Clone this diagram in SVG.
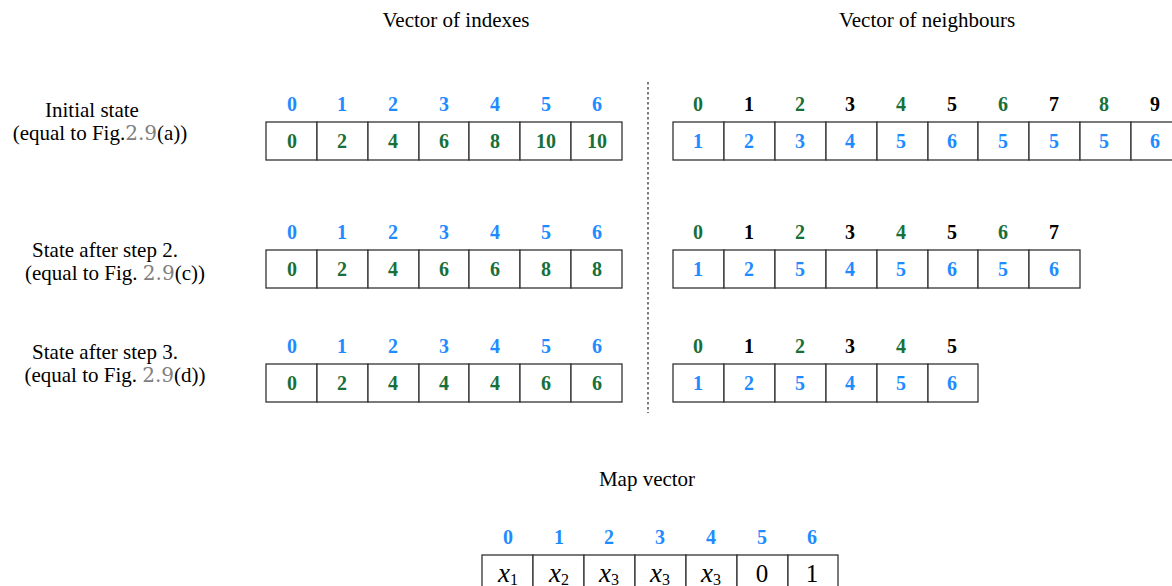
<svg xmlns="http://www.w3.org/2000/svg" width="1172" height="586" viewBox="0 0 1172 586">
<style>
.t{font-family:"Liberation Serif",serif;font-size:21px;fill:#000;text-anchor:middle}
.g9{fill:#808080;font-family:"DejaVu Serif",serif;font-size:20px;font-weight:300}
.n{font-family:"Liberation Serif",serif;font-size:20px;font-weight:bold;text-anchor:middle}
.b{fill:#1e8cff}
.gr{fill:#17703a}
.k{fill:#000}
.c{fill:#fff;stroke:#333;stroke-width:1.3}
.m{font-family:"Liberation Serif",serif;font-size:25px;text-anchor:middle;fill:#000}
</style>
<rect width="1172" height="586" fill="#fff"/>
<text class="t" x="456" y="27">Vector of indexes</text>
<text class="t" x="927" y="27">Vector of neighbours</text>
<text class="t" x="647" y="486">Map vector</text>
<g id="labels">
<text class="t" x="92" y="117">Initial state</text>
<text class="t" x="100" y="140">(equal to Fig.<tspan class="g9">2.9</tspan>(a))</text>
<text class="t" x="105" y="257">State after step 2.</text>
<text class="t" x="115" y="280">(equal to Fig. <tspan class="g9">2.9</tspan>(c))</text>
<text class="t" x="105" y="359">State after step 3.</text>
<text class="t" x="115" y="382">(equal to Fig. <tspan class="g9">2.9</tspan>(d))</text>
</g>
<g id="connectors">
<line x1="648" y1="82" x2="648" y2="413" stroke="#333" stroke-width="1.3" stroke-dasharray="2.5,2.5"/>
</g>
<g id="indexes-initial">
<g class="n b"><text x="292" y="111">0</text><text x="342" y="111">1</text><text x="393" y="111">2</text><text x="444" y="111">3</text><text x="495" y="111">4</text><text x="546" y="111">5</text><text x="597" y="111">6</text></g>
<rect class="c" x="266" y="122" width="51" height="38"/><rect class="c" x="317" y="122" width="51" height="38"/><rect class="c" x="368" y="122" width="51" height="38"/><rect class="c" x="419" y="122" width="50" height="38"/><rect class="c" x="469" y="122" width="51" height="38"/><rect class="c" x="520" y="122" width="51" height="38"/><rect class="c" x="571" y="122" width="51" height="38"/>
<g class="n gr"><text x="292" y="148">0</text><text x="342" y="148">2</text><text x="393" y="148">4</text><text x="444" y="148">6</text><text x="495" y="148">8</text><text x="546" y="148">10</text><text x="597" y="148">10</text></g>
</g>
<g id="neighbours-initial">
<g class="n"><text class="gr" x="698" y="111">0</text><text class="k" x="749" y="111">1</text><text class="gr" x="800" y="111">2</text><text class="k" x="850" y="111">3</text><text class="gr" x="901" y="111">4</text><text class="k" x="952" y="111">5</text><text class="gr" x="1003" y="111">6</text><text class="k" x="1054" y="111">7</text><text class="gr" x="1104" y="111">8</text><text class="k" x="1155" y="111">9</text></g>
<rect class="c" x="673" y="122" width="51" height="38"/><rect class="c" x="724" y="122" width="51" height="38"/><rect class="c" x="775" y="122" width="51" height="38"/><rect class="c" x="826" y="122" width="51" height="38"/><rect class="c" x="877" y="122" width="51" height="38"/><rect class="c" x="928" y="122" width="50" height="38"/><rect class="c" x="978" y="122" width="51" height="38"/><rect class="c" x="1029" y="122" width="51" height="38"/><rect class="c" x="1080" y="122" width="51" height="38"/><rect class="c" x="1131" y="122" width="51" height="38"/>
<g class="n b"><text x="698" y="148">1</text><text x="749" y="148">2</text><text x="800" y="148">3</text><text x="850" y="148">4</text><text x="901" y="148">5</text><text x="952" y="148">6</text><text x="1003" y="148">5</text><text x="1054" y="148">5</text><text x="1104" y="148">5</text><text x="1155" y="148">6</text></g>
</g>
<g id="indexes-step2">
<g class="n b"><text x="292" y="239">0</text><text x="342" y="239">1</text><text x="393" y="239">2</text><text x="444" y="239">3</text><text x="495" y="239">4</text><text x="546" y="239">5</text><text x="597" y="239">6</text></g>
<rect class="c" x="266" y="250" width="51" height="38"/><rect class="c" x="317" y="250" width="51" height="38"/><rect class="c" x="368" y="250" width="51" height="38"/><rect class="c" x="419" y="250" width="50" height="38"/><rect class="c" x="469" y="250" width="51" height="38"/><rect class="c" x="520" y="250" width="51" height="38"/><rect class="c" x="571" y="250" width="51" height="38"/>
<g class="n gr"><text x="292" y="276">0</text><text x="342" y="276">2</text><text x="393" y="276">4</text><text x="444" y="276">6</text><text x="495" y="276">6</text><text x="546" y="276">8</text><text x="597" y="276">8</text></g>
</g>
<g id="neighbours-step2">
<g class="n"><text class="gr" x="698" y="239">0</text><text class="k" x="749" y="239">1</text><text class="gr" x="800" y="239">2</text><text class="k" x="850" y="239">3</text><text class="gr" x="901" y="239">4</text><text class="k" x="952" y="239">5</text><text class="gr" x="1003" y="239">6</text><text class="k" x="1054" y="239">7</text></g>
<rect class="c" x="673" y="250" width="51" height="38"/><rect class="c" x="724" y="250" width="51" height="38"/><rect class="c" x="775" y="250" width="51" height="38"/><rect class="c" x="826" y="250" width="51" height="38"/><rect class="c" x="877" y="250" width="51" height="38"/><rect class="c" x="928" y="250" width="50" height="38"/><rect class="c" x="978" y="250" width="51" height="38"/><rect class="c" x="1029" y="250" width="51" height="38"/>
<g class="n b"><text x="698" y="276">1</text><text x="749" y="276">2</text><text x="800" y="276">5</text><text x="850" y="276">4</text><text x="901" y="276">5</text><text x="952" y="276">6</text><text x="1003" y="276">5</text><text x="1054" y="276">6</text></g>
</g>
<g id="indexes-step3">
<g class="n b"><text x="292" y="353">0</text><text x="342" y="353">1</text><text x="393" y="353">2</text><text x="444" y="353">3</text><text x="495" y="353">4</text><text x="546" y="353">5</text><text x="597" y="353">6</text></g>
<rect class="c" x="266" y="364" width="51" height="38"/><rect class="c" x="317" y="364" width="51" height="38"/><rect class="c" x="368" y="364" width="51" height="38"/><rect class="c" x="419" y="364" width="50" height="38"/><rect class="c" x="469" y="364" width="51" height="38"/><rect class="c" x="520" y="364" width="51" height="38"/><rect class="c" x="571" y="364" width="51" height="38"/>
<g class="n gr"><text x="292" y="390">0</text><text x="342" y="390">2</text><text x="393" y="390">4</text><text x="444" y="390">4</text><text x="495" y="390">4</text><text x="546" y="390">6</text><text x="597" y="390">6</text></g>
</g>
<g id="neighbours-step3">
<g class="n"><text class="gr" x="698" y="353">0</text><text class="k" x="749" y="353">1</text><text class="gr" x="800" y="353">2</text><text class="k" x="850" y="353">3</text><text class="gr" x="901" y="353">4</text><text class="k" x="952" y="353">5</text></g>
<rect class="c" x="673" y="364" width="51" height="38"/><rect class="c" x="724" y="364" width="51" height="38"/><rect class="c" x="775" y="364" width="51" height="38"/><rect class="c" x="826" y="364" width="51" height="38"/><rect class="c" x="877" y="364" width="51" height="38"/><rect class="c" x="928" y="364" width="50" height="38"/>
<g class="n b"><text x="698" y="390">1</text><text x="749" y="390">2</text><text x="800" y="390">5</text><text x="850" y="390">4</text><text x="901" y="390">5</text><text x="952" y="390">6</text></g>
</g>
<g id="map-vector">
<g class="n b"><text x="508" y="544">0</text><text x="559" y="544">1</text><text x="609" y="544">2</text><text x="660" y="544">3</text><text x="711" y="544">4</text><text x="762" y="544">5</text><text x="812" y="544">6</text></g>
<rect class="c" x="482" y="555" width="51" height="40"/><rect class="c" x="533" y="555" width="51" height="40"/><rect class="c" x="584" y="555" width="51" height="40"/><rect class="c" x="635" y="555" width="51" height="40"/><rect class="c" x="686" y="555" width="51" height="40"/><rect class="c" x="737" y="555" width="51" height="40"/><rect class="c" x="788" y="555" width="50" height="40"/>
<g class="m"><text x="508" y="582"><tspan font-style="italic" font-size="27">x</tspan><tspan font-size="16" dy="3">1</tspan></text><text x="559" y="582"><tspan font-style="italic" font-size="27">x</tspan><tspan font-size="16" dy="3">2</tspan></text><text x="609" y="582"><tspan font-style="italic" font-size="27">x</tspan><tspan font-size="16" dy="3">3</tspan></text><text x="660" y="582"><tspan font-style="italic" font-size="27">x</tspan><tspan font-size="16" dy="3">3</tspan></text><text x="711" y="582"><tspan font-style="italic" font-size="27">x</tspan><tspan font-size="16" dy="3">3</tspan></text><text x="762" y="582">0</text><text x="812" y="582">1</text></g>
</g>
</svg>
